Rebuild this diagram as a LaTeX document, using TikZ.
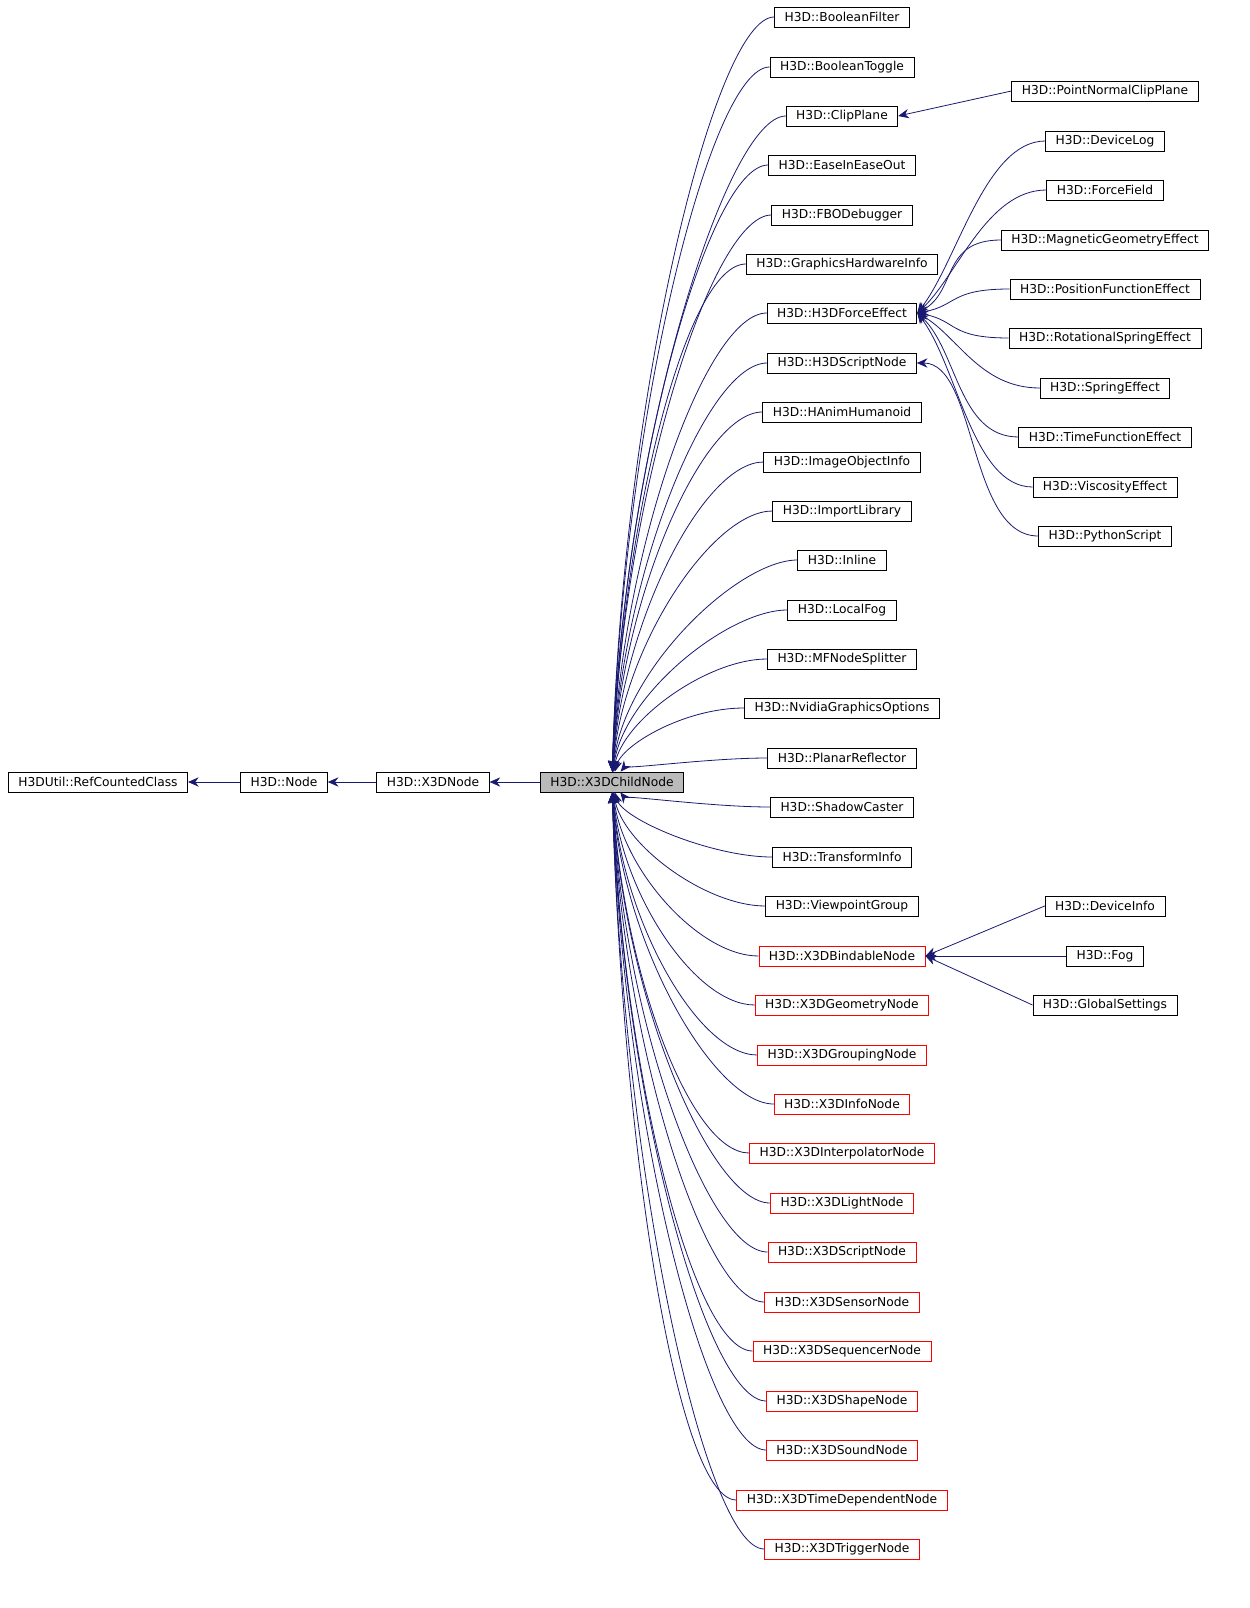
\documentclass[tikz,border=0pt]{standalone}
\usepackage{fontspec}
\setmainfont{DejaVu Sans}
\usetikzlibrary{arrows.meta}
\definecolor{edgeblue}{HTML}{191970}

\tikzset{
  cls/.style={draw=black, fill=white, inner xsep=7.5pt, inner ysep=0pt, minimum height=15pt, font=\fontsize{9.2}{10}\selectfont, line width=0.6pt},
  clsred/.style={cls, draw=red},
  clscur/.style={cls, fill=black!27},
  edge/.style={draw=edgeblue, line width=0.6pt, -{Stealth[length=8pt,width=7pt]}}
}

\begin{document}
\begin{tikzpicture}[x=0.75pt, y=-0.75pt]
    \useasboundingbox (0,0) rectangle (1249,1608);

    % Base chain
    \node[cls] (ref) at (98,782) {H3DUtil::RefCountedClass};
    \node[cls] (node) at (284,782) {H3D::Node};
    \node[cls] (x3d) at (433,782) {H3D::X3DNode};
    \node[clscur] (xc) at (612,782) {H3D::X3DChildNode};

    \draw[edge] (node) -- (ref);
    \draw[edge] (x3d) -- (node);
    \draw[edge] (xc) -- (x3d);

    % Children of X3DChildNode
    \foreach \n/\t/\y in {bf/BooleanFilter/17, bt/BooleanToggle/67, cp/ClipPlane/116,
        ease/EaseInEaseOut/165, fbo/FBODebugger/215, ghi/GraphicsHardwareInfo/264,
        fe/H3DForceEffect/313, hsn/H3DScriptNode/363, hah/HAnimHumanoid/412,
        ioi/ImageObjectInfo/462, il/ImportLibrary/511, inl/Inline/560,
        lf/LocalFog/610, mfs/MFNodeSplitter/659, ngo/NvidiaGraphicsOptions/708,
        pr/PlanarReflector/758, sc/ShadowCaster/807, ti/TransformInfo/857,
        vg/ViewpointGroup/906} {
      \node[cls] (\n) at (842,\y) {H3D::\t};
      \pgfmathsetmacro\dy{0.5*(\y-782)}
      \draw[edge] (\n.west) .. controls +(-60,0) and +(10,\dy) .. (xc);
    }
    \foreach \n/\t/\y in {bn/X3DBindableNode/956, gn/X3DGeometryNode/1005,
        grn/X3DGroupingNode/1055, inf/X3DInfoNode/1104, ipn/X3DInterpolatorNode/1153,
        ln/X3DLightNode/1203, xsn/X3DScriptNode/1252, sen/X3DSensorNode/1302,
        seq/X3DSequencerNode/1351, shn/X3DShapeNode/1401, snd/X3DSoundNode/1450,
        tdn/X3DTimeDependentNode/1500, trn/X3DTriggerNode/1549} {
      \node[clsred] (\n) at (842,\y) {H3D::\t};
      \pgfmathsetmacro\dy{0.5*(\y-782)}
      \draw[edge] (\n.west) .. controls +(-60,0) and +(10,\dy) .. (xc);
    }

    % Second level
    \node[cls] (pncp) at (1105,91) {H3D::PointNormalClipPlane};
    \draw[edge] (pncp.west) -- (cp.east);

    \foreach \n/\t/\y in {dl/DeviceLog/141, ff/ForceField/190, mge/MagneticGeometryEffect/240,
        pfe/PositionFunctionEffect/289, rse/RotationalSpringEffect/338, se/SpringEffect/388,
        tfe/TimeFunctionEffect/437, ve/ViscosityEffect/487} {
      \node[cls] (\n) at (1105,\y) {H3D::\t};
      \pgfmathsetmacro\dy{0.3*(\y-313)}
      \draw[edge] (\n.west) .. controls +(-60,0) and +(40,\dy) .. (fe.east);
    }

    \node[cls] (ps) at (1105,536) {H3D::PythonScript};
    \draw[edge] (ps.west) .. controls +(-70,0) and +(60,0) .. (hsn.east);

    \node[cls] (di) at (1105,906) {H3D::DeviceInfo};
    \node[cls] (fog) at (1105,956) {H3D::Fog};
    \node[cls] (gs) at (1105,1005) {H3D::GlobalSettings};
    \draw[edge] (di.west) -- (bn.east);
    \draw[edge] (fog.west) -- (bn.east);
    \draw[edge] (gs.west) -- (bn.east);
\end{tikzpicture}
\end{document}
